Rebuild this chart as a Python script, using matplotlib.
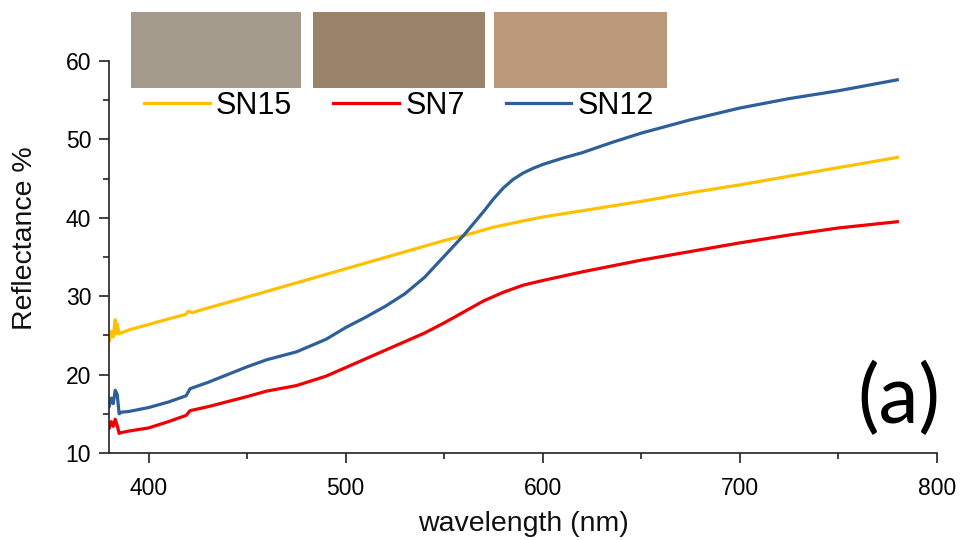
import matplotlib
matplotlib.use("Agg")
import matplotlib.pyplot as plt
from matplotlib.patches import Rectangle
from matplotlib.ticker import MultipleLocator

# ---- data ----
wl_sn15 = [380, 381, 382, 383, 383.5, 384, 385, 387, 390, 400, 410, 419, 420, 422, 430,
           450, 475, 500, 525, 550, 561, 575, 590, 600, 625, 650, 675, 700, 725, 750, 780]
sn15 = [24.3, 25.5, 24.8, 27.0, 25.2, 26.4, 25.2, 25.4, 25.7, 26.4, 27.1, 27.7, 28.1, 27.9, 28.5,
        29.9, 31.7, 33.5, 35.3, 37.1, 37.8, 38.8, 39.6, 40.1, 41.1, 42.1, 43.2, 44.2, 45.3, 46.4, 47.7]

wl_sn7 = [380, 381, 382, 383, 384, 385, 386, 390, 400, 410, 419, 421, 430, 450, 460, 475,
          490, 500, 520, 540, 550, 560, 570, 580, 590, 600, 620, 650, 675, 700, 725, 750, 780]
sn7 = [13.2, 14.0, 13.4, 14.3, 13.5, 12.5, 12.6, 12.8, 13.2, 14.0, 14.8, 15.4, 15.9, 17.2, 17.9, 18.6,
       19.8, 20.9, 23.1, 25.3, 26.6, 28.0, 29.4, 30.5, 31.4, 32.0, 33.1, 34.6, 35.7, 36.8, 37.8, 38.7, 39.5]

wl_sn12 = [380, 381, 382, 383, 384, 385, 386, 390, 400, 410, 419, 421, 430, 440, 450, 460, 475,
           490, 500, 510, 520, 530, 540, 550, 560, 570, 575, 580, 585, 590, 595, 600, 605, 610,
           620, 635, 650, 675, 700, 725, 750, 780]
sn12 = [16.0, 17.0, 16.3, 18.0, 17.5, 15.0, 15.2, 15.3, 15.8, 16.5, 17.3, 18.2, 19.0, 20.0, 21.0, 21.9, 22.9,
        24.5, 26.0, 27.3, 28.7, 30.3, 32.4, 35.1, 37.8, 40.8, 42.4, 43.8, 44.9, 45.7, 46.3, 46.8, 47.2, 47.6,
        48.3, 49.6, 50.8, 52.5, 54.0, 55.2, 56.2, 57.6]

labels = ["SN15", "SN7", "SN12"]
line_colors = ["#FFC000", "#F00000", "#2E5F98"]
swatch_colors = ["#A49A8C", "#9A836B", "#BA997B"]
x_ticks = [400, 500, 600, 700, 800]
y_ticks = [10, 20, 30, 40, 50, 60]

plt.rcParams['font.family'] = ['Liberation Sans', 'DejaVu Sans']

fig = plt.figure(figsize=(9.62, 5.4), dpi=100)
W, H = 962, 540
ax = fig.add_axes([109.3 / W, 1 - 453 / H, (936.7 - 109.3) / W, (453 - 61) / H])

for wl, vals, lab, col in zip([wl_sn15, wl_sn7, wl_sn12], [sn15, sn7, sn12], labels, line_colors):
    ax.plot(wl, vals, color=col, lw=2.3, label=lab, solid_joinstyle='round')

ax.set_xlim(380, 800)
ax.set_ylim(10, 60)
ax.set_xticks(x_ticks)
ax.set_yticks(y_ticks)
ax.xaxis.set_minor_locator(MultipleLocator(50))
ax.yaxis.set_minor_locator(MultipleLocator(5))
for s in ['top', 'right']:
    ax.spines[s].set_visible(False)
for s in ['left', 'bottom']:
    ax.spines[s].set_linewidth(1.2)
    ax.spines[s].set_color('#222222')
ax.tick_params(which='major', direction='out', length=7, width=1.2, color='#222222',
               labelsize=16.5, pad=6)
ax.tick_params(which='minor', direction='out', length=4, width=1.2, color='#222222')
ax.tick_params(axis='x', which='major', pad=10)

ax.set_xlabel('wavelength (nm)', fontsize=20.5, labelpad=8, color='#111111')
ax.set_ylabel('Reflectance %', fontsize=20.5, color='#111111')
ax.yaxis.set_label_coords((38 - 109.3) / 827.4, (453 - 238.5) / 392)

ax.legend(loc='center left', bbox_to_anchor=((144 - 109.3) / 827.4, (453 - 106) / 392),
          ncol=3, frameon=False, fontsize=22, handlelength=2.15, handletextpad=0.2,
          columnspacing=1.35, borderaxespad=0, borderpad=0)

# colour swatches above the plot
swatch_x = [131, 313, 494]
swatch_w = [170, 172, 173]
for x0, w, c in zip(swatch_x, swatch_w, swatch_colors):
    fig.add_artist(Rectangle((x0 / W, 1 - 88 / H), w / W, 76 / H,
                             transform=fig.transFigure, facecolor=c, edgecolor='none'))

ax.text((899 - 109.3) / 827.4, (453 - 399) / 392, '(a)', transform=ax.transAxes,
        fontsize=58, family=['Lato', 'DejaVu Sans'], ha='center', va='center', color='black')

fig.savefig('out.png', dpi=100)
